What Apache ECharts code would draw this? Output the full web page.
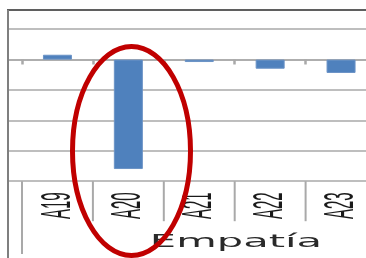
<!DOCTYPE html>
<html>
<head>
<meta charset="utf-8">
<script src="https://cdn.jsdelivr.net/npm/echarts@6/dist/echarts.min.js"></script>
<style>
html,body{margin:0;padding:0;background:#fff;}
#c{width:366px;height:258px;}
</style>
</head>
<body>
<div id="c"></div>
<script>
// Categories ('' = the neighbouring, cut-off category of the previous group)
const categories = ['', 'A19', 'A20', 'A21', 'A22', 'A23'];
const values = [null, 0.08, -1.80, -0.04, -0.15, -0.22];
const groupName = 'Empatía';
const yMin = -2, yMax = 0.5, yStep = 0.5;

const chart = echarts.init(document.getElementById('c'), null, {renderer: 'canvas'});
const gray = '#a9a9a9';
chart.setOption({
  animation: false,
  backgroundColor: '#ffffff',
  grid: {left: -48.9, width: 425.4, top: 29.2, height: 152, containLabel: false, outerBoundsMode: 'none'},
  xAxis: {
    type: 'category', data: categories, position: 'bottom',
    axisLine: {show: true, onZero: true, lineStyle: {color: gray, width: 1.5}},
    axisTick: {show: true, length: 5, lineStyle: {color: gray, width: 2.5}},
    axisLabel: {show: false},
    splitLine: {show: false}
  },
  yAxis: {
    type: 'value', min: yMin, max: yMax, interval: yStep,
    axisLine: {show: false}, axisTick: {show: false}, axisLabel: {show: false},
    splitLine: {show: true, lineStyle: {color: gray, width: 1.5}}
  },
  series: [{
    type: 'bar', data: values, barWidth: 29,
    itemStyle: {color: '#4f81bd', borderColor: '#6b93c6', borderWidth: 1}
  }]
});

const yBottom = chart.convertToPixel({yAxisIndex: 0}, yMin);
const px = function (i) { return chart.convertToPixel({xAxisIndex: 0}, i); };
const gfx = [];
// white mask outside the visible plot edge
gfx.push({type: 'rect', z: 100, shape: {x: 0, y: 0, width: 7, height: 258}, style: {fill: '#fff'}});
// top border and left axis line
gfx.push({type: 'line', z: 101, shape: {x1: 7, y1: 10, x2: 366, y2: 10}, style: {stroke: '#2a2a2a', lineWidth: 1.6}});
gfx.push({type: 'line', z: 101, shape: {x1: 8, y1: 10, x2: 8, y2: 258}, style: {stroke: '#7f7f7f', lineWidth: 2}});
// category separators in the label area (group separator is longer)
const halfBand = (px(1) - px(0)) / 2;
for (let i = 0; i < categories.length; i++) {
  const sx = px(i) + halfBand;
  gfx.push({type: 'line', z: 101, shape: {x1: sx, y1: yBottom, x2: sx, y2: i === 0 ? 254 : yBottom + 40}, style: {stroke: gray, lineWidth: 2}});
}
// category labels (stretched, rotated)
categories.forEach(function (c, i) {
  if (!c) return;
  gfx.push({
    type: 'text', z: 102, x: px(i) + 0.5, y: yBottom + 24.5, rotation: Math.PI / 2, scaleX: 1, scaleY: 2.8,
    style: {text: c, fill: '#1a1a1a', font: '15px "Liberation Sans", Arial, sans-serif', align: 'center', verticalAlign: 'middle'}
  });
});
// group label
gfx.push({
  type: 'text', z: 102, x: 236, y: 243, scaleX: 2.45, scaleY: 1,
  style: {text: groupName, fill: '#2a2a2a', font: '17px "DejaVu Sans", sans-serif', align: 'center', verticalAlign: 'middle'}
});
// red annotation ellipse
gfx.push({
  type: 'ellipse', z: 110, shape: {cx: 131.5, cy: 151, rx: 59, ry: 104.5},
  style: {fill: null, stroke: '#c00000', lineWidth: 5}
});
chart.setOption({graphic: gfx});
</script>
</body>
</html>
